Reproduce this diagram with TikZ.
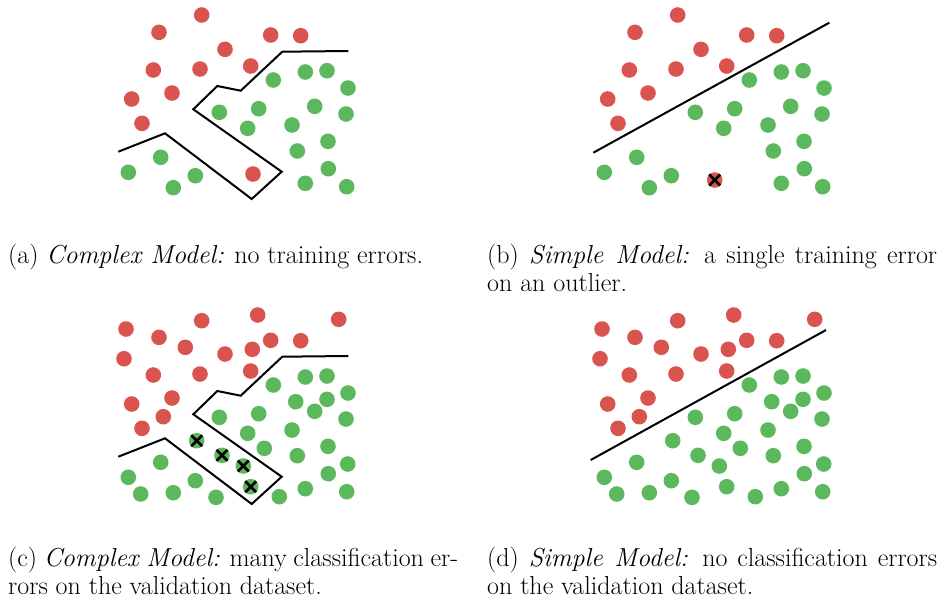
\documentclass[tikz,border=0pt]{standalone}
\definecolor{redpt}{HTML}{D9534F}
\definecolor{greenpt}{HTML}{5CB85C}
\tikzset{
  rdot/.style={fill=redpt},
  gdot/.style={fill=greenpt},
  bound/.style={draw=black,line width=2pt,line join=miter},
  xmark/.style={draw=black,line width=2.6pt},
  captext/.style={inner sep=0pt,anchor=base west,font=\fontsize{26}{28}\selectfont}
}
\def\redA{201.7/15, 159/32.3, 270.7/35, 300.7/35.7, 225/49.3, 153.3/70, 200/69, 250.7/66, 172/93, 131.7/99, 142/123.3}
\def\greenA{273.3/80, 305.3/72, 327/70.7, 348/88, 219.3/112.3, 258.7/108.7, 314.7/106.3, 346/114, 247.7/128.3, 292/125, 328/141.3, 297.3/151, 160.7/157.3, 128.3/172.3, 195.3/175.7, 173.3/187.7, 328.3/168.7, 305.3/183.3, 346.7/186.7}
\def\redC{126/329, 201.7/320.7, 257.7/315, 338.7/319.3, 159/337.3, 185.3/347.3, 270.7/340.3, 300.7/340.7, 252.3/349.3, 225/354, 124/358.7, 153.3/375, 200/374, 250.7/371, 172/398, 131.7/404, 163.3/416.7, 142/428.3}
\def\greenC{273.3/385, 305.3/377, 327/376, 348/393, 295.7/401.7, 327/399.3, 314.7/411.3, 346/419, 219.3/417.3, 258.7/413.7, 247.7/433.3, 292/430, 264.3/448.3, 328/446.3, 297.3/455.7, 347.7/464, 328.3/473.7, 160.7/462.3, 128.3/477.3, 195.3/480.7, 140.7/494, 173.3/492.7, 216/497.3, 279.3/496.7, 305.3/488.7, 346.7/491.7}
\def\crossC{196.7/440.7, 222/455.3, 243.3/466, 250.7/486.7}
\newcommand{\xcross}[2]{\draw[xmark] (#1-5.5,#2-5.5) -- (#1+5.5,#2+5.5) (#1-5.5,#2+5.5) -- (#1+5.5,#2-5.5);}
\begin{document}
\begin{tikzpicture}[x=1pt,y=-1pt]
\useasboundingbox (0,0) rectangle (939,606);
% ---------- panel (a)
\foreach \x/\y in \redA {\fill[rdot] (\x,\y) circle[radius=7.8pt];}
\foreach \x/\y in \greenA {\fill[gdot] (\x,\y) circle[radius=7.8pt];}
\fill[rdot] (253,174) circle[radius=7.8pt];
\coordinate (a1) at (118.3,151.7);
\coordinate (a9) at (348.3,51);
\draw[bound] (a1) -- (165,133.3) -- (251.7,199) -- (281.7,171.7) -- (193.3,109.3) -- (217.3,86) -- (240.7,90.7) -- (282.3,51.7) -- (a9);
% ---------- panel (b)
\begin{scope}[xshift=476pt]
\foreach \x/\y in \redA {\fill[rdot] (\x,\y) circle[radius=7.8pt];}
\foreach \x/\y in \greenA {\fill[gdot] (\x,\y) circle[radius=7.8pt];}
\end{scope}
\fill[rdot] (714.7,180) circle[radius=7.8pt];
\xcross{714.7}{180}
\coordinate (b1) at (593.3,152.7);
\coordinate (b2) at (829.3,22.7);
\draw[bound] (b1) -- (b2);
% ---------- panel (c)
\foreach \x/\y in \redC {\fill[rdot] (\x,\y) circle[radius=7.8pt];}
\foreach \x/\y in \greenC {\fill[gdot] (\x,\y) circle[radius=7.8pt];}
\foreach \x/\y in \crossC {\fill[gdot] (\x,\y) circle[radius=7.8pt]; \xcross{\x}{\y}}
\begin{scope}[yshift=-305pt]
\coordinate (c1) at (118.3,151.7);
\coordinate (c9) at (348.3,51);
\draw[bound] (c1) -- (165,133.3) -- (251.7,199) -- (281.7,171.7) -- (193.3,109.3) -- (217.3,86) -- (240.7,90.7) -- (282.3,51.7) -- (c9);
\end{scope}
% ---------- panel (d)
\begin{scope}[xshift=476pt]
\foreach \x/\y in \redC {\fill[rdot] (\x,\y) circle[radius=7.8pt];}
\foreach \x/\y in \greenC {\fill[gdot] (\x,\y) circle[radius=7.8pt];}
\foreach \x/\y in \crossC {\fill[gdot] (\x,\y) circle[radius=7.8pt];}
\end{scope}
\coordinate (d1) at (590.7,460);
\coordinate (d2) at (826,330);
\draw[bound] (d1) -- (d2);
% ---------- captions
\node[captext] (capa) at (8,263) {(a) \textit{Complex Model:} no training errors.};
\node[captext] (capb1) at (487,263) {\makebox[450pt][s]{(b) \textit{Simple Model:} a single training error}};
\node[captext] (capb2) at (487,291) {on an outlier.};
\node[captext] (capc1) at (8,566) {\makebox[450pt][s]{(c) \textit{Complex Model:} many classification er-}};
\node[captext] (capc2) at (8,594) {rors on the validation dataset.};
\node[captext] (capd1) at (487,566) {\makebox[450pt][s]{(d) \textit{Simple Model:} no classification errors}};
\node[captext] (capd2) at (487,594) {on the validation dataset.};
\end{tikzpicture}
\end{document}
